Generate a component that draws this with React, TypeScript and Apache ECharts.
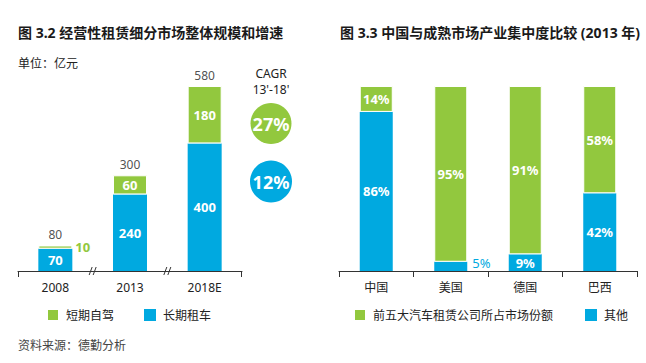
import React, { useEffect, useRef } from 'react';
import * as echarts from 'echarts';

const years = ['2008', '2013', '2018E'];
const longTerm = [70, 240, 400];
const shortTerm = [10, 60, 180];
const totals = [80, 300, 580];
const cagrLabels = ['27%', '12%'];

const countries = ['中国', '美国', '德国', '巴西'];
const top5Share = [14, 95, 91, 58];
const otherShare = [86, 5, 9, 42];

const GREEN = '#92C83E';
const BLUE = '#00A9E0';
const DARK = '#222222';
const FONT = "'Noto Sans', 'Noto Sans CJK SC', sans-serif";

const G1 = { left: 18, width: 224, top: 86, height: 185 };
const G2 = { left: 339, width: 298, top: 86, height: 185 };

export default function App() {
  const ref = useRef<HTMLDivElement>(null);

  useEffect(() => {
    document.body.style.margin = '0';
    if (!ref.current) return;
    const chart = echarts.init(ref.current, undefined, { renderer: 'svg' });
    const axisY = G1.top + G1.height;
    const catW = G1.width / years.length;
    const breaks = [1, 2].map((i) => G1.left + catW * i);

    const graphic: any[] = [
      {
        type: 'text', x: 18, y: 63,
        style: { text: '单位：亿元', fontSize: 12, fontFamily: FONT, fill: DARK, textVerticalAlign: 'middle', verticalAlign: 'middle' },
      },
      {
        type: 'text', x: 18, y: 345,
        style: { text: '资料来源：德勤分析', fontSize: 12, fontFamily: FONT, fill: '#444', textVerticalAlign: 'middle', verticalAlign: 'middle' },
      },
      {
        type: 'text', x: 271, y: 73,
        style: { text: 'CAGR', fontSize: 12, fontFamily: FONT, fill: DARK, textAlign: 'center', align: 'center', textVerticalAlign: 'middle', verticalAlign: 'middle' },
      },
      {
        type: 'text', x: 271, y: 89,
        style: { text: "13'-18'", fontSize: 12, fontFamily: FONT, fill: DARK, textAlign: 'center', align: 'center', textVerticalAlign: 'middle', verticalAlign: 'middle' },
      },
      { type: 'circle', shape: { cx: 271, cy: 123.5, r: 20.5 }, style: { fill: GREEN } },
      { type: 'circle', shape: { cx: 271, cy: 181.5, r: 21 }, style: { fill: BLUE } },
      {
        type: 'text', x: 271, y: 124,
        style: { text: cagrLabels[0], fontSize: 18, fontWeight: 'bold', fontFamily: FONT, fill: '#fff', textAlign: 'center', align: 'center', textVerticalAlign: 'middle', verticalAlign: 'middle' },
      },
      {
        type: 'text', x: 271, y: 182,
        style: { text: cagrLabels[1], fontSize: 18, fontWeight: 'bold', fontFamily: FONT, fill: '#fff', textAlign: 'center', align: 'center', textVerticalAlign: 'middle', verticalAlign: 'middle' },
      },
      // end ticks of left axis
      { type: 'line', shape: { x1: G1.left + 0.5, y1: axisY, x2: G1.left + 0.5, y2: axisY + 6 }, style: { stroke: '#333', lineWidth: 1 } },
      { type: 'line', shape: { x1: G1.left + G1.width - 0.5, y1: axisY, x2: G1.left + G1.width - 0.5, y2: axisY + 6 }, style: { stroke: '#333', lineWidth: 1 } },
    ];
    breaks.forEach((bx) => {
      [-2, 2].forEach((dx) => {
        graphic.push({
          type: 'line',
          shape: { x1: bx + dx - 1.5, y1: axisY + 4, x2: bx + dx + 1.5, y2: axisY - 4 },
          style: { stroke: '#333', lineWidth: 1 },
        });
      });
    });

    const insideLabel = { show: true, position: 'inside', color: '#fff', fontSize: 13, fontWeight: 'bold', fontFamily: FONT };

    chart.setOption({
      animation: false,
      textStyle: { fontFamily: FONT },
      title: [
        { text: '图 3.2 经营性租赁细分市场整体规模和增速', left: 18, top: 25, padding: 0, textStyle: { fontSize: 14, fontWeight: 'bold', color: '#1a1a1a', fontFamily: FONT } },
        { text: '图 3.3 中国与成熟市场产业集中度比较 (2013 年)', left: 340, top: 25, padding: 0, textStyle: { fontSize: 14, fontWeight: 'bold', color: '#1a1a1a', fontFamily: FONT } },
      ],
      legend: [
        {
          data: ['短期自驾', '长期租车'], left: 46, top: 308, padding: 0, icon: 'rect',
          itemWidth: 12, itemHeight: 12, itemGap: 30,
          textStyle: { fontSize: 12, color: DARK, fontFamily: FONT, padding: [0, 0, 0, 2] },
        },
        {
          data: ['前五大汽车租赁公司所占市场份额', '其他'], left: 353, top: 308, padding: 0, icon: 'rect',
          itemWidth: 12, itemHeight: 12, itemGap: 32,
          textStyle: { fontSize: 12, color: DARK, fontFamily: FONT, padding: [0, 0, 0, 2] },
        },
      ],
      grid: [G1, G2],
      xAxis: [
        {
          type: 'category', gridIndex: 0, data: years,
          axisLine: { lineStyle: { color: '#333', width: 1 } },
          axisTick: { show: false },
          axisLabel: { color: DARK, fontSize: 12, margin: 10, fontFamily: FONT },
        },
        {
          type: 'category', gridIndex: 1, data: countries,
          axisLine: { lineStyle: { color: '#333', width: 1 } },
          axisTick: { show: true, length: 6, lineStyle: { color: '#333' } },
          axisLabel: { color: DARK, fontSize: 12, margin: 10, fontFamily: FONT },
        },
      ],
      yAxis: [
        { type: 'value', gridIndex: 0, min: 0, max: 580, show: false, splitLine: { show: false } },
        { type: 'value', gridIndex: 1, min: 0, max: 100, show: false, splitLine: { show: false } },
      ],
      series: [
        {
          name: '长期租车', type: 'bar', stack: 'a', xAxisIndex: 0, yAxisIndex: 0, barWidth: 34,
          itemStyle: { color: BLUE }, data: longTerm, label: insideLabel,
        },
        {
          name: '短期自驾', type: 'bar', stack: 'a', xAxisIndex: 0, yAxisIndex: 0, barWidth: 34,
          itemStyle: { color: GREEN, borderColor: '#fff', borderWidth: 1 },
          label: insideLabel,
          data: shortTerm.map((v, i) =>
            i === 0
              ? { value: v, label: { position: 'right', distance: 3, color: GREEN, fontWeight: 'bold', fontSize: 13 } }
              : v
          ),
        },
        {
          name: 'total', type: 'scatter', xAxisIndex: 0, yAxisIndex: 0, symbolSize: 0, silent: true,
          data: totals,
          label: { show: true, position: 'top', distance: 5, color: DARK, fontSize: 12, fontFamily: FONT },
        },
        {
          name: '其他', type: 'bar', stack: 'b', xAxisIndex: 1, yAxisIndex: 1, barWidth: 33,
          itemStyle: { color: BLUE },
          label: { ...insideLabel, formatter: '{c}%' },
          data: otherShare.map((v, i) =>
            i === 1
              ? { value: v, label: { position: 'right', distance: 5, offset: [0, -3], color: BLUE, fontWeight: 'normal', fontSize: 13 } }
              : v
          ),
        },
        {
          name: '前五大汽车租赁公司所占市场份额', type: 'bar', stack: 'b', xAxisIndex: 1, yAxisIndex: 1, barWidth: 33,
          itemStyle: { color: GREEN, borderColor: '#fff', borderWidth: 1 },
          label: { ...insideLabel, formatter: '{c}%' },
          data: top5Share,
        },
      ],
      graphic,
    });

    return () => chart.dispose();
  }, []);

  return <div ref={ref} style={{ width: 646, height: 363 }} />;
}
